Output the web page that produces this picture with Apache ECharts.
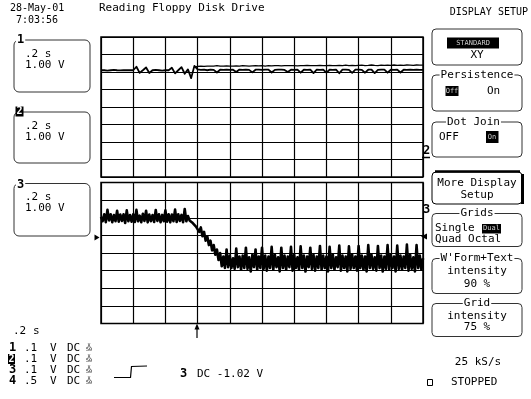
<!DOCTYPE html>
<html>
<head>
<meta charset="utf-8">
<script src="https://cdn.jsdelivr.net/npm/echarts@6/dist/echarts.min.js"></script>
<style>
  html, body { margin: 0; padding: 0; background: #fff; }
  #main { width: 531px; height: 399px; }
</style>
</head>
<body>
<div id="main"></div>
<script>
// sample step in divisions (0.2 s / div)
var dt1 = 0.1
var dt3 = 0.05
var ghostStart = 2.9

// channel 1, main trace (upper grid), divisions
var ch1 = [
  2.1, 2.1, 2.08, 2.1, 2.12, 2.1, 2.09, 2.1, 2.11, 2.1,
  2.1, 2.3, 1.95, 2.1, 2.26, 1.94, 2.1, 2.12, 2.1, 2.08,
  2.1, 2.1, 2.24, 1.92, 2.1, 2.28, 1.9, 2.15, 1.65, 2.35,
  2.15, 2.12, 2.13, 2.1, 2.14, 2.12, 1.97, 2.13, 2.12, 2.14,
  2.12, 2.13, 2.0, 2.14, 2.12, 2.13, 2.12, 1.98, 2.13, 2.14,
  2.12, 2.13, 2.14, 1.97, 2.12, 2.13, 2.14, 2.12, 2.0, 2.13,
  2.12, 2.14, 1.96, 2.13, 2.12, 2.14, 1.94, 2.13, 2.12, 2.14,
  1.96, 2.13, 2.12, 2.14, 1.93, 2.13, 2.14, 2.12, 1.95, 2.13,
  2.14, 2.12, 1.96, 2.13, 2.14, 1.94, 2.12, 2.13, 2.14, 1.96,
  2.13, 2.12, 2.14, 1.97, 2.13, 2.12, 2.14, 2.12, 2.13, 2.12, 2.12
]
// channel 1, persisted upper line after the trigger
var ch1Ghost = [
  2.28, 2.32, 2.33, 2.32, 2.34, 2.33, 2.34, 2.36, 2.33, 2.34,
  2.35, 2.34, 2.33, 2.35, 2.34, 2.36, 2.35, 2.34, 2.35, 2.36,
  2.35, 2.36, 2.34, 2.36, 2.35, 2.37, 2.36, 2.35, 2.36, 2.37,
  2.36, 2.37, 2.35, 2.37, 2.36, 2.38, 2.36, 2.37, 2.36, 2.38,
  2.37, 2.36, 2.38, 2.37, 2.36, 2.38, 2.37, 2.39, 2.37, 2.38,
  2.37, 2.38, 2.39, 2.37, 2.38, 2.4, 2.38, 2.37, 2.39, 2.38,
  2.39, 2.38, 2.4, 2.38, 2.39, 2.38, 2.4, 2.39, 2.38, 2.4,
  2.39, 2.39
]
// channel 3 (lower grid), divisions
var ch3 = [
  2.05, 1.8, 2.2, 1.75, 2.45, 1.85, 2.2, 1.75, 2.15, 1.8, 2.4, 1.78, 2.18, 1.82, 2.2, 1.7, 2.42, 1.8, 2.15, 1.78,
  2.2, 1.76, 2.45, 1.8, 2.12, 1.75, 2.22, 1.82, 2.4, 1.74, 2.18, 1.8, 2.15, 1.76, 2.44, 1.82, 2.2, 1.75, 2.16, 1.8,
  2.42, 1.78, 2.2, 1.74, 2.18, 1.8, 2.46, 1.76, 2.2, 1.82, 2.16, 1.75, 2.5, 1.8, 2.1, 1.85, 1.95, 1.7, 1.8, 1.5,
  1.6, 1.2, 1.45, 0.95, 1.2, 0.7, 0.95, 0.45, 0.7, 0.15, 0.45, -0.1, 0.2, -0.4, 0.0, -0.75, -0.2, -0.85, 0.2, -0.8,
  -0.15, -0.85, -0.3, -0.9, 0.25, -0.8, -0.2, -0.95, -0.15, -0.85, 0.3, -0.9, -0.25, -1.05, -0.1, -0.8, 0.2, -0.95, -0.2, -0.85,
  0.3, -0.9, -0.15, -1.0, -0.2, -0.85, 0.35, -0.95, -0.1, -0.8, -0.25, -1.05, 0.3, -0.85, -0.15, -0.95, -0.2, -0.8, 0.35, -1.0,
  -0.1, -0.85, -0.25, -0.95, 0.38, -0.85, -0.15, -1.05, -0.2, -0.8, 0.3, -0.9, -0.1, -1.0, -0.2, -0.85, 0.4, -0.95, -0.15, -0.85,
  -0.2, -1.05, 0.35, -0.85, -0.1, -0.95, -0.25, -0.8, 0.42, -1.0, -0.15, -0.85, -0.2, -1.05, 0.38, -0.9, -0.1, -0.85, -0.2, -1.0,
  0.4, -0.85, -0.15, -0.95, -0.2, -1.05, 0.45, -0.85, -0.1, -0.9, -0.25, -1.0, 0.4, -0.85, -0.15, -1.05, -0.2, -0.9, 0.45, -0.95,
  -0.1, -0.85, -0.2, -1.05, 0.42, -0.9, -0.15, -0.95, -0.2, -0.85, 0.48, -1.0, -0.1, -0.9, -0.25, -1.05, 0.45, -0.85, -0.15, -0.95,
  -0.3
]

// bottom-left channel settings
var chanNums = ['1', '2', '3', '4']
var chanVdiv = ['.1', '.1', '.1', '.5']

var FONT = '"DejaVu Sans Mono", monospace'

function pairs (vals, step, start) {
  var out = []
  for (var i = 0; i < vals.length; i++) {
    out.push([+(start + i * step).toFixed(3), vals[i]])
  }
  return out
}

function T (x, y, s, o) {
  o = o || {}
  var al = o.align || 'left'
  return {
    type: 'text', x: x, y: y, z: 30,
    style: {
      text: s,
      fill: o.fill || '#000',
      font: (o.bold ? 'bold ' : '') + (o.size || 11) + 'px ' + FONT,
      textAlign: al, align: al,
      textVerticalAlign: 'middle', verticalAlign: 'middle',
      backgroundColor: o.bg || null,
      padding: o.bg ? [0, 1] : 0
    }
  }
}
function R (x, y, w, h, o) {
  o = o || {}
  return {
    type: 'rect', z: o.z || 10,
    shape: {x: x, y: y, width: w, height: h, r: o.r || 0},
    style: {fill: o.fill || 'none', stroke: o.stroke || null, lineWidth: o.lw || 1}
  }
}
function L (pts, o) {
  o = o || {}
  return {
    type: 'polyline', z: 15,
    shape: {points: pts},
    style: {stroke: o.stroke || '#000', lineWidth: o.lw || 1, fill: null}
  }
}
function P (pts) {
  return {type: 'polygon', z: 15, shape: {points: pts}, style: {fill: '#000'}}
}

var g = []
// header
g.push(T(10, 8, '28-May-01', {size: 10}))
g.push(T(16, 20, '7:03:56', {size: 10}))
g.push(T(99, 8, 'Reading Floppy Disk Drive'))
g.push(T(528, 12, 'DISPLAY SETUP', {size: 10, align: 'right'}))

// channel boxes on the left
var boxTops = [40, 112, 183.5]
var boxH = [52, 51, 52.5]
for (var b = 0; b < 3; b++) {
  g.push(R(14, boxTops[b], 76, boxH[b], {stroke: '#333', r: 5}))
  g.push(T(25, boxTops[b] + 14, '.2 s'))
  g.push(T(25, boxTops[b] + 25, '1.00 V'))
}
g.push(T(16, 40, '1', {bold: true, size: 12, bg: '#fff'}))
g.push(R(15.5, 106.5, 8, 10, {fill: '#000', z: 25}))
g.push(T(19.5, 111.5, '2', {bold: true, size: 10, fill: '#fff', align: 'center'}))
g.push(T(16, 185, '3', {bold: true, size: 12, bg: '#fff'}))

// right menu
var mx = 432, mw = 90, mc = 477
g.push(R(mx, 29, mw, 36, {stroke: '#333', r: 4}))
g.push(R(447, 37.5, 52, 11, {fill: '#000', z: 25}))
g.push(T(473, 43, 'STANDARD', {size: 7, fill: '#ccc', align: 'center'}))
g.push(T(mc, 55, 'XY', {align: 'center'}))

g.push(R(mx, 75, mw, 36, {stroke: '#333', r: 4}))
g.push(T(mc, 75, 'Persistence', {align: 'center', bg: '#fff'}))
g.push(R(445.5, 86, 13, 10, {fill: '#000', z: 25}))
g.push(T(452, 91, 'Off', {size: 7, fill: '#ccc', align: 'center'}))
g.push(T(487, 91, 'On'))

g.push(R(mx, 122, mw, 35, {stroke: '#333', r: 4}))
g.push(T(446, 122, 'Dot Join', {bg: '#fff'}))
g.push(T(439, 137, 'OFF'))
g.push(R(486, 131, 12.5, 12, {fill: '#000', z: 25}))
g.push(T(492, 137, 'On', {size: 7, fill: '#ccc', align: 'center'}))

g.push(R(mx, 172, mw, 32, {stroke: '#000', r: 4}))
g.push(L([[435, 171.5], [520, 171.5]], {lw: 2.5}))
g.push(L([[522.5, 174], [522.5, 204]], {lw: 3}))
g.push(T(mc, 183.5, 'More Display', {align: 'center'}))
g.push(T(mc, 195.5, 'Setup', {align: 'center'}))

g.push(R(mx, 213.5, mw, 33, {stroke: '#333', r: 4}))
g.push(T(mc, 213.5, 'Grids', {align: 'center', bg: '#fff'}))
g.push(T(435, 228.5, 'Single'))
g.push(R(482, 224, 19, 9.5, {fill: '#000', z: 25}))
g.push(T(491.5, 228.5, 'Dual', {size: 7, fill: '#ccc', align: 'center'}))
g.push(T(435, 239.5, 'Quad Octal'))

g.push(R(mx, 258.5, mw, 35, {stroke: '#333', r: 4}))
g.push(T(mc, 258.5, "W'Form+Text", {align: 'center', bg: '#fff'}))
g.push(T(mc, 271.5, 'intensity', {align: 'center'}))
g.push(T(mc, 284, '90 %', {align: 'center'}))

g.push(R(mx, 303.5, mw, 33, {stroke: '#333', r: 4}))
g.push(T(mc, 303.5, 'Grid', {align: 'center', bg: '#fff'}))
g.push(T(mc, 316, 'intensity', {align: 'center'}))
g.push(T(mc, 327.5, '75 %', {align: 'center'}))

g.push(T(478, 362.5, '25 kS/s', {align: 'center'}))
g.push(R(427.5, 379.5, 5, 6, {stroke: '#000'}))
g.push(T(451, 382.5, 'STOPPED'))

// markers round the grids
g.push(T(423, 151, '2', {bold: true, size: 12}))
g.push(L([[422, 157.5], [430, 157.5]], {lw: 1.5}))
g.push(T(423, 209.5, '3', {bold: true, size: 12}))
g.push(P([[421, 236.5], [427, 233.5], [427, 239.5]]))
g.push(P([[99.5, 237.5], [94.5, 234.5], [94.5, 240.5]]))
g.push(P([[197, 323.5], [194.5, 329.5], [199.5, 329.5]]))
g.push(L([[197, 328], [197, 338]], {lw: 1.2}))

// bottom-left timebase and channels
g.push(T(13, 331, '.2'))
g.push(T(33, 331, 's'))
for (var c = 0; c < chanNums.length; c++) {
  var y = 348 + c * 11
  if (c === 1) {
    g.push(R(8, y - 5, 7, 10, {fill: '#000', z: 25}))
    g.push(T(11.5, y, chanNums[c], {bold: true, size: 10, fill: '#fff', align: 'center'}))
  } else {
    g.push(T(9, y, chanNums[c], {bold: true, size: 12}))
  }
  g.push(T(24, y, chanVdiv[c]))
  g.push(T(50, y, 'V'))
  g.push(T(67, y, 'DC'))
  g.push(T(89, y - 2.5, 'X', {size: 5, align: 'center'}))
  g.push(T(89, y + 2, '50', {size: 5, align: 'center'}))
}
g.push(L([[114, 377.5], [130.5, 377.5], [131.5, 366.5], [147, 366]], {lw: 1.2}))
g.push(T(180, 374, '3', {bold: true, size: 12}))
g.push(T(197, 374, 'DC -1.02 V'))

var axisX = function (gi) {
  return {
    type: 'value', gridIndex: gi, min: 0, max: 10, interval: 1,
    axisLine: {show: false}, axisTick: {show: false}, axisLabel: {show: false},
    splitLine: {show: true, lineStyle: {color: '#000', width: 1.2}}
  }
}
var axisY = function (gi) {
  return {
    type: 'value', gridIndex: gi, min: -4, max: 4, interval: 1,
    axisLine: {show: false}, axisTick: {show: false}, axisLabel: {show: false},
    splitLine: {show: true, lineStyle: {color: '#000', width: 1.2}}
  }
}
var traceStyle = function (w) {
  return {type: 'line', showSymbol: false, symbol: 'none', animation: false,
    lineStyle: {color: '#000', width: w, join: 'round'}, z: 5}
}

var option = {
  backgroundColor: '#fff',
  animation: false,
  grid: [
    {left: 101, top: 37, width: 322, height: 140, show: true, borderColor: '#000', borderWidth: 1.5},
    {left: 101, top: 182.5, width: 322, height: 141, show: true, borderColor: '#000', borderWidth: 1.5}
  ],
  xAxis: [axisX(0), axisX(1)],
  yAxis: [axisY(0), axisY(1)],
  series: [
    Object.assign(traceStyle(1.8), {name: 'ch1', xAxisIndex: 0, yAxisIndex: 0, data: pairs(ch1, dt1, 0)}),
    Object.assign(traceStyle(1.3), {name: 'ch1 persist', xAxisIndex: 0, yAxisIndex: 0, data: pairs(ch1Ghost, dt1, ghostStart)}),
    Object.assign(traceStyle(2.6), {name: 'ch3', xAxisIndex: 1, yAxisIndex: 1, data: pairs(ch3, dt3, 0)})
  ],
  graphic: {elements: g}
}

var chart = echarts.init(document.getElementById('main'), null, {renderer: 'canvas'})
chart.setOption(option)
</script>
</body>
</html>
